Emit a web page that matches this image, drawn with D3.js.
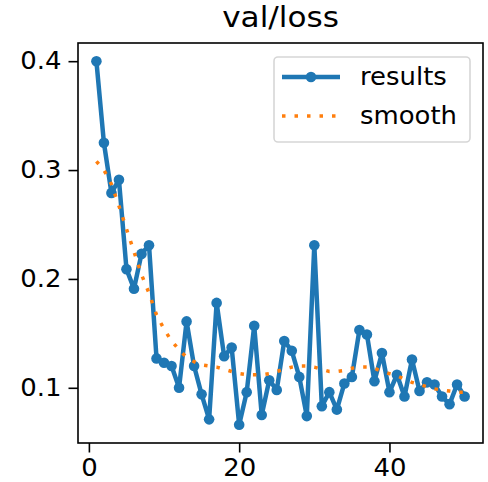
<!DOCTYPE html>
<html>
<head>
<meta charset="utf-8">
<script src="https://cdn.jsdelivr.net/npm/d3@7"></script>
<style>
  body { margin: 0; background: #fff; }
  text { font-family: "DejaVu Sans", sans-serif; fill: #000; }
</style>
</head>
<body>
<svg id="chart" width="488" height="482"></svg>
<script>
// epochs 1..50
var epochs = d3.range(1, 51);

// val/loss
var results = [
  0.400, 0.325, 0.279, 0.291, 0.209, 0.191, 0.223, 0.231, 0.127, 0.123,
  0.120, 0.100, 0.161, 0.120, 0.094, 0.071, 0.178, 0.129, 0.137, 0.066,
  0.096, 0.157, 0.075, 0.107, 0.098, 0.143, 0.134, 0.110, 0.074, 0.231,
  0.083, 0.096, 0.080, 0.104, 0.110, 0.153, 0.149, 0.106, 0.132, 0.096,
  0.112, 0.092, 0.126, 0.097, 0.105, 0.103, 0.092, 0.085, 0.103, 0.092
];

// smoothed curve, also
var smooth = [
  0.308, 0.300, 0.287, 0.267, 0.246, 0.225, 0.204, 0.187, 0.167, 0.154,
  0.143, 0.135, 0.128, 0.124, 0.121, 0.120, 0.119, 0.117, 0.115, 0.113,
  0.112, 0.112, 0.112, 0.113, 0.115, 0.117, 0.119, 0.120, 0.120, 0.119,
  0.117, 0.115, 0.115, 0.116, 0.118, 0.119, 0.119, 0.118, 0.115, 0.113,
  0.111, 0.108, 0.105, 0.103, 0.101, 0.099, 0.098, 0.097, 0.096, 0.096
];

var xTicks = [0, 20, 40];
var yTicks = [0.1, 0.2, 0.3, 0.4];
var legendLabels = ["results", "smooth"];

var blue = "#1f77b4", orange = "#ff7f0e";
var fontSize = 24;
// the source picture is a little wider than tall, so the glyphs are too
var sx = 1.08;

var box = { left: 78, top: 43, right: 483, bottom: 443 };

var svg = d3.select("#chart");

// matplotlib style 5% margins
var xPad = (50 - 1) * 0.05;
var x = d3.scaleLinear()
    .domain([1 - xPad, 50 + xPad])
    .range([box.left, box.right]);

var yMin = d3.min(results.concat(smooth)), yMax = d3.max(results.concat(smooth));
var yPad = (yMax - yMin) * 0.05;
var y = d3.scaleLinear()
    .domain([yMin - yPad, yMax + yPad])
    .range([box.bottom, box.top]);

var resData = epochs.map(function(e, i) { return { e: e, v: results[i] }; });
var smData = epochs.map(function(e, i) { return { e: e, v: smooth[i] }; });

var line = d3.line()
    .x(function(d) { return x(d.e); })
    .y(function(d) { return y(d.v); });

var g = svg.append("g");

// results line + markers
g.append("path")
    .datum(resData)
    .attr("d", line)
    .attr("fill", "none")
    .attr("stroke", blue)
    .attr("stroke-width", 4.5)
    .attr("stroke-linejoin", "round");

g.selectAll("circle.pt")
    .data(resData)
    .enter().append("circle")
    .attr("class", "pt")
    .attr("cx", function(d) { return x(d.e); })
    .attr("cy", function(d) { return y(d.v); })
    .attr("r", 5.3)
    .attr("fill", blue);

// smooth dotted line
g.append("path")
    .datum(smData)
    .attr("d", line)
    .attr("fill", "none")
    .attr("stroke", orange)
    .attr("stroke-width", 3.5)
    .attr("stroke-dasharray", "3.5,9");

// axes
var xAxis = d3.axisBottom(x).tickValues(xTicks).tickSize(9.5).tickPadding(6);
var yAxis = d3.axisLeft(y).tickValues(yTicks).tickSize(9.5).tickPadding(7)
    .tickFormat(d3.format(".1f"));

var gx = svg.append("g")
    .attr("transform", "translate(0," + box.bottom + ")")
    .call(xAxis);
var gy = svg.append("g")
    .attr("transform", "translate(" + box.left + ",0)")
    .call(yAxis);

[gx, gy].forEach(function(a) {
  a.select(".domain").remove();
  a.selectAll(".tick line").attr("stroke", "#000").attr("stroke-width", 1.6);
  a.selectAll(".tick text")
      .style("font-size", fontSize + "px")
      .style("font-family", "DejaVu Sans")
      .attr("fill", "#000")
      .attr("transform", "scale(" + sx + ",1)");
});
// keep the right edge of y labels where it was
gy.selectAll(".tick text").attr("x", -16.5 / sx);

// frame
svg.append("rect")
    .attr("x", box.left)
    .attr("y", box.top)
    .attr("width", box.right - box.left)
    .attr("height", box.bottom - box.top)
    .attr("fill", "none")
    .attr("stroke", "#000")
    .attr("stroke-width", 1.6);

// title
svg.append("text")
    .attr("transform", "translate(" + (box.left + box.right) / 2 + ",27) scale(" + sx + ",1)")
    .attr("text-anchor", "middle")
    .style("font-size", fontSize * 1.2 + "px")
    .text("val/loss");

// legend
var lg = svg.append("g");
lg.append("rect")
    .attr("x", 274).attr("y", 57)
    .attr("width", 196).attr("height", 85)
    .attr("rx", 4)
    .attr("fill", "#fff").attr("fill-opacity", 0.8)
    .attr("stroke", "#d6d6d6").attr("stroke-width", 1.6);

var rows = lg.selectAll("g.row")
    .data(legendLabels)
    .enter().append("g")
    .attr("class", "row")
    .attr("transform", function(d, i) { return "translate(0," + (77 + i * 39) + ")"; });

rows.append("line")
    .attr("x1", 282).attr("x2", 340)
    .attr("stroke", function(d, i) { return i ? orange : blue; })
    .attr("stroke-width", function(d, i) { return i ? 3.5 : 4.5; })
    .attr("stroke-dasharray", function(d, i) { return i ? "3.5,9" : null; });

rows.filter(function(d, i) { return i === 0; })
    .append("circle")
    .attr("cx", 311).attr("r", 5.3).attr("fill", blue);

rows.append("text")
    .attr("transform", "translate(360,0) scale(" + sx + ",1)")
    .attr("dy", "0.35em")
    .style("font-size", fontSize + "px")
    .text(function(d) { return d; });
</script>
</body>
</html>
